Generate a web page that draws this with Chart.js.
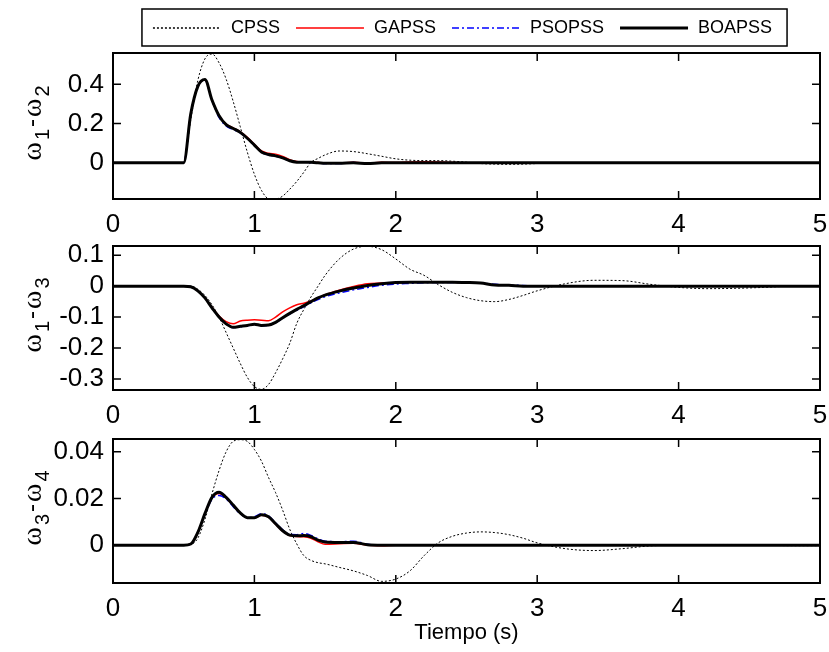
<!DOCTYPE html>
<html>
<head>
<meta charset="utf-8">
<script src="https://cdn.jsdelivr.net/npm/chart.js@4"></script>
<style>
  html, body { margin: 0; padding: 0; background: #fff; }
  #wrap { position: relative; width: 829px; height: 652px; }
  #wrap canvas { position: absolute; left: 0; }
</style>
</head>
<body>
<div id="wrap">
  <canvas id="c1" width="829" height="240" style="top:0px"></canvas>
  <canvas id="c2" width="829" height="191" style="top:240px"></canvas>
  <canvas id="c3" width="829" height="221" style="top:431px"></canvas>
</div>
<script>
// time base (s), shared by every trace
const time = [0, 0.1, 0.2, 0.3, 0.4, 0.5, 0.55, 0.6, 0.65, 0.7, 0.75, 0.8, 0.85, 0.9, 0.95, 1.0,
  1.05, 1.1, 1.15, 1.2, 1.25, 1.3, 1.35, 1.4, 1.45, 1.5, 1.6, 1.7, 1.8, 1.9, 2.0, 2.1, 2.2, 2.3,
  2.4, 2.5, 2.6, 2.7, 2.8, 2.9, 3.0, 3.2, 3.4, 3.6, 3.8, 4.0, 4.2, 4.4, 4.6, 4.8, 5.0];

const seriesNames = ['CPSS', 'GAPSS', 'PSOPSS', 'BOAPSS'];

// w1 - w2
const cpss12 = [0, 0, 0, 0, 0, 0,
  0.22, 0.42, 0.53, 0.555, 0.51, 0.427, 0.313, 0.184, 0.054, -0.059, -0.141, -0.183, -0.185, -0.17,
  -0.135, -0.095, -0.048, 0.002, 0.022, 0.04,
  0.06, 0.057, 0.046, 0.033, 0.02, 0.013, 0.011, 0.011, 0.008, 0.003, -0.004, -0.007, -0.008, -0.007, -0.004,
  0, 0, 0, 0, 0, 0, 0, 0, 0, 0];
const gapss12 = [0, 0, 0, 0, 0, 0,
  0.25, 0.39, 0.424, 0.32, 0.24, 0.197, 0.178, 0.158, 0.13, 0.094, 0.06, 0.048, 0.044, 0.032,
  0.016, 0.006, 0.003, 0.003, 0.001, -0.002,
  -0.002, 0.002, -0.002, 0.002, 0.001, 0.004, 0.005, 0.004, 0.001, 0, 0, 0, 0, 0, 0,
  0, 0, 0, 0, 0, 0, 0, 0, 0, 0];
const psopss12 = [0, 0, 0, 0, 0, 0,
  0.25, 0.388, 0.423, 0.318, 0.232, 0.188, 0.17, 0.152, 0.123, 0.088, 0.053, 0.04, 0.033, 0.024,
  0.009, 0.002, 0.002, 0.001, -0.001, -0.004,
  -0.004, 0.001, -0.003, 0, 0, 0, 0, 0, 0, 0, 0, 0, 0, 0, 0,
  0, 0, 0, 0, 0, 0, 0, 0, 0, 0];
const boapss12 = [0, 0, 0, 0, 0, 0,
  0.25, 0.39, 0.425, 0.32, 0.24, 0.195, 0.175, 0.155, 0.125, 0.09, 0.055, 0.042, 0.035, 0.025,
  0.01, 0.003, 0.002, 0.002, 0, -0.003,
  -0.003, 0, -0.004, 0, 0, 0, 0, 0, 0, 0, 0, 0, 0, 0, 0,
  0, 0, 0, 0, 0, 0, 0, 0, 0, 0];

// w1 - w3
const cpss13 = [0, 0, 0, 0, 0, 0,
  0, -0.01, -0.03, -0.06, -0.1, -0.15, -0.2, -0.25, -0.295, -0.325, -0.334, -0.318, -0.28, -0.235,
  -0.185, -0.12, -0.075, -0.035, 0, 0.035,
  0.088, 0.12, 0.129, 0.118, 0.088, 0.055, 0.035, 0.005, -0.02, -0.037, -0.047, -0.05, -0.043, -0.03, -0.015,
  0.008, 0.019, 0.018, 0.006, -0.004, -0.008, -0.007, -0.004, 0, 0];
const gapss13 = [0, 0, 0, 0, 0, 0,
  -0.002, -0.015, -0.038, -0.068, -0.097, -0.115, -0.122, -0.113, -0.11, -0.109, -0.11, -0.112, -0.1, -0.083,
  -0.07, -0.06, -0.055, -0.048, -0.038, -0.028,
  -0.013, -0.001, 0.008, 0.01, 0.012, 0.013, 0.013, 0.013, 0.013, 0.012, 0.01, 0.004, 0.003, 0, 0,
  0, 0, 0, 0, 0, 0, 0, 0, 0, 0];
const psopss13 = [0, 0, 0, 0, 0, 0,
  -0.002, -0.015, -0.038, -0.07, -0.1, -0.123, -0.134, -0.131, -0.128, -0.124, -0.128, -0.127, -0.118, -0.104,
  -0.09, -0.078, -0.066, -0.054, -0.043, -0.034,
  -0.022, -0.012, -0.004, 0.003, 0.007, 0.009, 0.011, 0.012, 0.012, 0.011, 0.01, 0.006, 0.004, 0.002, 0,
  0, 0, 0, 0, 0, 0, 0, 0, 0, 0];
const boapss13 = [0, 0, 0, 0, 0, 0,
  -0.002, -0.015, -0.038, -0.07, -0.1, -0.122, -0.133, -0.13, -0.127, -0.123, -0.127, -0.126, -0.117, -0.102,
  -0.088, -0.075, -0.063, -0.05, -0.038, -0.029,
  -0.016, -0.006, 0.002, 0.008, 0.012, 0.013, 0.013, 0.013, 0.013, 0.012, 0.01, 0.004, 0.003, 0, 0,
  0, 0, 0, 0, 0, 0, 0, 0, 0, 0];

// w3 - w4
const cpss34 = [0, 0, 0, 0, 0, 0,
  0.0003, 0.003, 0.011, 0.022, 0.032, 0.04, 0.0445, 0.0452, 0.0445, 0.041, 0.036, 0.029, 0.0225, 0.015,
  0.0068, 0.0005, -0.0045, -0.0065, -0.0075, -0.008,
  -0.0095, -0.011, -0.013, -0.0155, -0.0145, -0.011, -0.0045, 0.001, 0.0038, 0.0052, 0.0057, 0.0054, 0.0045, 0.003, 0.001,
  -0.0015, -0.0023, -0.0015, -0.0003, 0, 0.0003, 0.0003, 0, -0.0002, -0.0002];
const gapss34 = [0, 0, 0, 0, 0, 0,
  0.0005, 0.0055, 0.0135, 0.0203, 0.0222, 0.0203, 0.017, 0.0137, 0.0117, 0.0117, 0.0128, 0.012, 0.009, 0.006,
  0.0041, 0.0037, 0.0036, 0.003, 0.0015, 0.0004,
  0.0006, 0.0008, 0, -0.0002, 0, 0, 0, 0, 0, 0, 0, 0, 0, 0, 0,
  0, 0, 0, 0, 0, 0, 0, 0, 0, 0];
const psopss34 = [0, 0, 0, 0, 0, 0,
  0.0005, 0.0055, 0.0132, 0.0197, 0.0213, 0.0198, 0.0165, 0.0135, 0.0118, 0.0122, 0.0135, 0.0126, 0.0095, 0.0066,
  0.0046, 0.0045, 0.005, 0.0042, 0.0027, 0.0017,
  0.0015, 0.0017, 0.0004, 0, 0, 0, 0, 0, 0, 0, 0, 0, 0, 0, 0,
  0, 0, 0, 0, 0, 0, 0, 0, 0, 0];
const boapss34 = [0, 0, 0, 0, 0, 0,
  0.0005, 0.0055, 0.0135, 0.0205, 0.0227, 0.0205, 0.0172, 0.0138, 0.0118, 0.0118, 0.013, 0.0122, 0.0092, 0.0062,
  0.0043, 0.004, 0.0041, 0.0036, 0.0022, 0.0014,
  0.0012, 0.0012, 0.0002, 0, 0, 0, 0, 0, 0, 0, 0, 0, 0, 0, 0,
  0, 0, 0, 0, 0, 0, 0, 0, 0, 0];

// axis limits and tick labels
const xTicks = [0, 1, 2, 3, 4, 5];
const yRange12 = [-0.185, 0.56];
const yTicks12 = [0, 0.2, 0.4];
const yRange13 = [-0.336, 0.13];
const yTicks13 = [-0.3, -0.2, -0.1, 0, 0.1];
const yRange34 = [-0.0162, 0.0455];
const yTicks34 = [0, 0.02, 0.04];
const ySubs12 = ['1', '2'];
const ySubs13 = ['1', '3'];
const ySubs34 = ['3', '4'];
const xTitle = 'Tiempo (s)';

Chart.defaults.font.family = '"Liberation Sans", Arial, sans-serif';
Chart.defaults.color = '#000';

const styles = [
  { color: '#000000', width: 1, dash: [2, 2], order: 4 },
  { color: '#ff0000', width: 1.5, dash: [], order: 3 },
  { color: '#0000ff', width: 1.5, dash: [7, 3, 2, 3], order: 2 },
  { color: '#000000', width: 3, dash: [], order: 1 }
];

// box around the plot area with inward tick marks on all four sides
const frame = {
  id: 'frame',
  afterDraw(chart) {
    const { ctx, chartArea: a, scales: { x, y } } = chart;
    ctx.save();
    ctx.strokeStyle = '#000';
    ctx.lineWidth = 1.5;
    ctx.beginPath();
    x.ticks.forEach(t => {
      const px = x.getPixelForValue(t.value);
      ctx.moveTo(px, a.bottom); ctx.lineTo(px, a.bottom - 8);
      ctx.moveTo(px, a.top); ctx.lineTo(px, a.top + 8);
    });
    y.ticks.forEach(t => {
      const py = y.getPixelForValue(t.value);
      ctx.moveTo(a.left, py); ctx.lineTo(a.left + 8, py);
      ctx.moveTo(a.right, py); ctx.lineTo(a.right - 8, py);
    });
    ctx.stroke();
    ctx.lineWidth = 2;
    ctx.strokeRect(a.left, a.top, a.right - a.left, a.bottom - a.top);
    ctx.restore();
  }
};

// rotated y title: omega with subscripts
const yLabel = {
  id: 'yLabel',
  afterDraw(chart, args, opts) {
    const { ctx, chartArea: a } = chart;
    const fonts = {
      w: '28px "Liberation Serif", serif',
      sub: '20px "Liberation Sans", Arial, sans-serif',
      dash: '24px "Liberation Sans", Arial, sans-serif'
    };
    const parts = [
      { t: 'ω', k: 'w', dy: 0 }, { t: opts.subs[0], k: 'sub', dy: 8 },
      { t: '-', k: 'dash', dy: -2 },
      { t: 'ω', k: 'w', dy: 0 }, { t: opts.subs[1], k: 'sub', dy: 8 }
    ];
    ctx.save();
    ctx.fillStyle = '#000';
    ctx.textAlign = 'left';
    ctx.textBaseline = 'alphabetic';
    let total = 0;
    parts.forEach(p => { ctx.font = fonts[p.k]; p.w = ctx.measureText(p.t).width + 2; total += p.w; });
    ctx.translate(41, (a.top + a.bottom) / 2 - 4);
    ctx.rotate(-Math.PI / 2);
    let x = -total / 2;
    parts.forEach(p => { ctx.font = fonts[p.k]; ctx.fillText(p.t, x, p.dy); x += p.w; });
    ctx.restore();
  }
};

// framed legend row above the first panel
const legendBox = {
  id: 'legendBox',
  afterDraw(chart) {
    const { ctx, chartArea: a } = chart;
    const lineLen = 68, gapText = 10, gapItem = 16, cy = 28;
    ctx.save();
    ctx.font = '18px "Liberation Sans", Arial, sans-serif';
    ctx.textBaseline = 'middle';
    ctx.textAlign = 'left';
    const widths = seriesNames.map(n => lineLen + gapText + ctx.measureText(n).width);
    const total = widths.reduce((s, w) => s + w, 0) + gapItem * (seriesNames.length - 1);
    let x = (a.left + a.right) / 2 - total / 2 - 4;
    ctx.setLineDash([]);
    ctx.lineWidth = 1.5;
    ctx.strokeStyle = '#000';
    ctx.strokeRect(x - 11, 9, total + 26, 37);
    seriesNames.forEach((name, i) => {
      const st = styles[i];
      ctx.beginPath();
      ctx.setLineDash(st.dash);
      ctx.lineWidth = Math.max(st.width, 1.5);
      ctx.strokeStyle = st.color;
      ctx.moveTo(x, cy);
      ctx.lineTo(x + lineLen, cy);
      ctx.stroke();
      ctx.setLineDash([]);
      ctx.fillStyle = '#000';
      ctx.fillText(name, x + lineLen + gapText, cy);
      x += widths[i] + gapItem;
    });
    ctx.restore();
  }
};

function buildChart(id, values, yRange, yTicks, subs, cfg) {
  const datasets = seriesNames.map((name, k) => ({
    label: name,
    data: time.map((t, i) => ({ x: t, y: values[k][i] })),
    borderColor: styles[k].color,
    borderWidth: styles[k].width,
    borderDash: styles[k].dash,
    order: styles[k].order,
    pointRadius: 0,
    fill: false,
    cubicInterpolationMode: 'monotone'
  }));
  return new Chart(document.getElementById(id), {
    type: 'line',
    data: { datasets },
    options: {
      responsive: false,
      animation: false,
      devicePixelRatio: 1,
      layout: { padding: { top: cfg.padTop, right: 9, left: 0, bottom: 0 } },
      plugins: { legend: { display: false }, tooltip: { enabled: false }, yLabel: { subs } },
      scales: {
        x: {
          type: 'linear', min: 0, max: 5,
          grid: { display: false, drawTicks: false },
          border: { display: false },
          ticks: { padding: 10, font: { size: 26 }, maxRotation: 0, autoSkip: false, callback: v => String(v) },
          title: cfg.xTitle
            ? { display: true, text: cfg.xTitle, font: { size: 22 }, padding: { top: 6, bottom: 6 } }
            : { display: false },
          afterBuildTicks: s => { s.ticks = xTicks.map(v => ({ value: v })); },
          afterFit: s => { s.height = cfg.xHeight; s.paddingLeft = 0; s.paddingRight = 0; }
        },
        y: {
          type: 'linear', min: yRange[0], max: yRange[1],
          grid: { display: false, drawTicks: false },
          border: { display: false },
          ticks: { padding: 9, font: { size: 26 }, autoSkip: false, callback: v => String(v) },
          afterBuildTicks: s => { s.ticks = yTicks.map(v => ({ value: v })); },
          afterFit: s => { s.width = 113; s.paddingTop = 0; s.paddingBottom = 0; }
        }
      }
    },
    plugins: [frame, yLabel].concat(cfg.legend ? [legendBox] : [])
  });
}

buildChart('c1', [cpss12, gapss12, psopss12, boapss12], yRange12, yTicks12, ySubs12,
  { padTop: 53, xHeight: 41, legend: true });
buildChart('c2', [cpss13, gapss13, psopss13, boapss13], yRange13, yTicks13, ySubs13,
  { padTop: 6, xHeight: 41 });
buildChart('c3', [cpss34, gapss34, psopss34, boapss34], yRange34, yTicks34, ySubs34,
  { padTop: 8, xHeight: 69, xTitle: xTitle });
</script>
</body>
</html>
